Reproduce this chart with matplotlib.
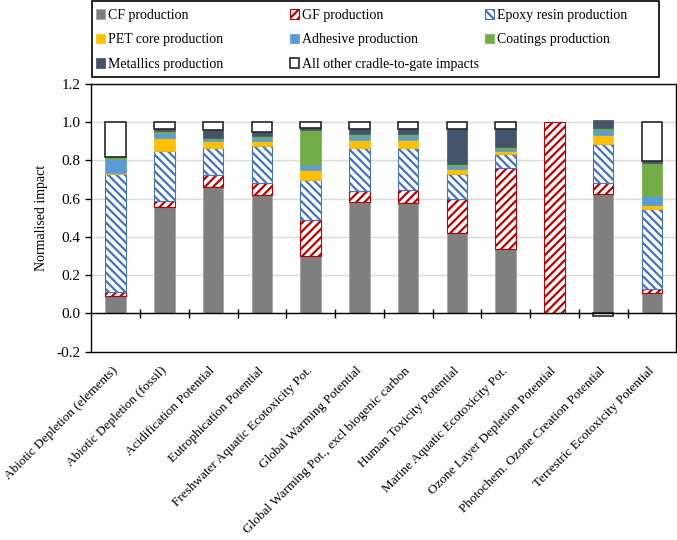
import numpy as np
import matplotlib
matplotlib.use("Agg")
import matplotlib.pyplot as plt
from matplotlib.patches import Patch, Rectangle

plt.rcParams["font.family"] = ["Liberation Serif", "DejaVu Serif"]
plt.rcParams["font.size"] = 10
plt.rcParams["hatch.linewidth"] = 1.6

categories = [
    "Abiotic Depletion (elements)",
    "Abiotic Depletion (fossil)",
    "Acidification Potential",
    "Eutrophication Potential",
    "Freshwater Aquatic Ecotoxicity Pot.",
    "Global Warming Potential",
    "Global Warming Pot., excl biogenic carbon",
    "Human Toxicity Potential",
    "Marine Aquatic Ecotoxicity Pot.",
    "Ozone Layer Depletion Potential",
    "Photochem. Ozone Creation Potential",
    "Terrestric Ecotoxicity Potential",
]

cf_production = [0.093, 0.555, 0.660, 0.617, 0.298, 0.583, 0.580, 0.423, 0.339, 0.0, 0.623, 0.104]
gf_production = [0.017, 0.035, 0.062, 0.063, 0.189, 0.057, 0.063, 0.174, 0.421, 1.0, 0.059, 0.021]
epoxy_production = [0.620, 0.262, 0.142, 0.195, 0.213, 0.224, 0.221, 0.130, 0.075, 0.0, 0.205, 0.423]
pet_production = [0.006, 0.065, 0.036, 0.025, 0.051, 0.044, 0.044, 0.026, 0.017, 0.0, 0.047, 0.021]
adhesive_production = [0.070, 0.027, 0.010, 0.020, 0.023, 0.022, 0.022, 0.017, 0.008, 0.0, 0.023, 0.043]
coatings_production = [0.010, 0.012, 0.010, 0.010, 0.183, 0.010, 0.010, 0.013, 0.010, 0.0, 0.012, 0.174]
metallics_production = [0.004, 0.008, 0.040, 0.020, 0.011, 0.022, 0.022, 0.179, 0.092, 0.0, 0.043, 0.009]
other_impacts = [0.180, 0.036, 0.040, 0.050, 0.032, 0.038, 0.038, 0.038, 0.038, 0.0, -0.012, 0.205]

series = [
    ("CF production", cf_production, dict(facecolor="#7F7F7F", edgecolor="#A0A0A0", linewidth=0.5)),
    ("GF production", gf_production, dict(facecolor="white", edgecolor="#C00000", hatch="////", linewidth=0.8)),
    ("Epoxy resin production", epoxy_production, dict(facecolor="white", edgecolor="#4472C4", hatch="\\\\\\\\", linewidth=0.8)),
    ("PET core production", pet_production, dict(facecolor="#FFC000", edgecolor="#FFC000", linewidth=0.5)),
    ("Adhesive production", adhesive_production, dict(facecolor="#5B9BD5", edgecolor="#5B9BD5", linewidth=0.5)),
    ("Coatings production", coatings_production, dict(facecolor="#70AD47", edgecolor="#70AD47", linewidth=0.5)),
    ("Metallics production", metallics_production, dict(facecolor="#44546A", edgecolor="#44546A", linewidth=0.5)),
    ("All other cradle-to-gate impacts", other_impacts, dict(facecolor="white", edgecolor="#262626", linewidth=1.2)),
]

W, H = 677, 540
fig = plt.figure(figsize=(W / 100, H / 100), dpi=100)
ax = fig.add_axes([91.3 / W, 1 - 351.6 / H, 585 / W, 267.6 / H])

x = np.arange(len(categories))
pos_base = np.zeros(len(categories))
neg_base = np.zeros(len(categories))
handles = []
for name, vals, style in series:
    vals = np.array(vals)
    bottom = np.where(vals >= 0, pos_base, neg_base)
    mask = vals != 0
    ax.bar(x[mask], vals[mask], width=0.42, bottom=bottom[mask], zorder=3, **style)
    pos_base = pos_base + np.clip(vals, 0, None)
    neg_base = neg_base + np.clip(vals, None, 0)
    handles.append(Patch(label=name, **style))

ax.set_xlim(-0.5, len(categories) - 0.5)
ax.set_ylim(-0.2, 1.2)
yticks = np.arange(-0.2, 1.21, 0.2)
ax.set_yticks(yticks)
ax.set_yticklabels([f"{v:.1f}" for v in yticks], fontsize=11)
ax.yaxis.grid(True, color="#D9D9D9", linewidth=1, zorder=0)
ax.set_axisbelow(True)
ax.tick_params(axis="y", direction="out", length=4, width=1, pad=4)

# zero line with ticks between categories
ax.axhline(0, color="black", linewidth=1, zorder=4)
bounds = np.arange(0.5, len(categories) - 0.5, 1.0)
ax.vlines(bounds, -0.022, 0.022, color="black", linewidth=1, zorder=4)

ax.set_xticks(x)
ax.set_xticklabels(categories, rotation=45, ha="right", va="center",
                   rotation_mode="anchor", fontsize=9.5)
ax.tick_params(axis="x", length=0, pad=12.5)

for s in ax.spines.values():
    s.set_color("black")
    s.set_linewidth(1)

ax.set_ylabel("Normalised impact", fontsize=10, labelpad=5.5)

# legend: three equal-width columns (filled row by row) inside one frame
col_x = [96 / W, 290 / W, 485 / W]
for i, cx in enumerate(col_x):
    fig.legend(handles=handles[i::3], loc="upper left", bbox_to_anchor=(cx, 1 - 9 / H),
               ncol=1, frameon=False, handlelength=0.68, handleheight=0.68,
               handletextpad=0.2, borderpad=0, borderaxespad=0,
               fontsize=10, labelspacing=0.82)
fig.patches.append(Rectangle((92 / W, 1 - 77 / H), 567 / W, 76 / H, transform=fig.transFigure,
                             facecolor="none", edgecolor="black", linewidth=1.2))

fig.savefig("out.png", dpi=100)
